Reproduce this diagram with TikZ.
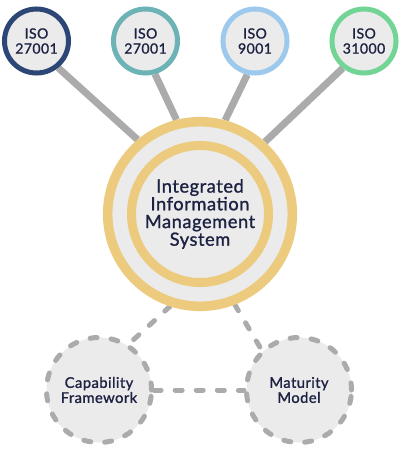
\documentclass[tikz,border=0pt]{standalone}
\usepackage{fontspec}
\setmainfont{Lato}[FakeBold=1.2, LetterSpace=3]
\usetikzlibrary{backgrounds}

\definecolor{isonavy}{HTML}{2C4775}
\definecolor{isoteal}{HTML}{6DB3B5}
\definecolor{isosky}{HTML}{9DC9EC}
\definecolor{isogreen}{HTML}{72D495}
\definecolor{hubgold}{HTML}{EDCB7E}
\definecolor{discfill}{HTML}{EBEBEB}
\definecolor{linkgrey}{HTML}{ABABAB}
\definecolor{labelnavy}{HTML}{1D2243}

\tikzset{
  iso/.style={circle, draw, line width=3.56pt, fill=discfill, minimum size=1.6cm,
    inner sep=0pt, align=center, text=labelnavy,
    font=\fontsize{10}{10.7}\selectfont},
  hub/.style={circle, draw=hubgold, line width=6.8pt, fill=discfill,
    minimum size=4.615cm, inner sep=0pt, align=center, text=labelnavy,
    font=\fontsize{13}{12.6}\selectfont},
  pillar/.style={circle, draw=linkgrey, line width=3.56pt, line cap=round,
    dash pattern=on 5pt off 10pt, fill=discfill, minimum size=2.625cm,
    inner sep=0pt, align=center, text=labelnavy,
    font=\fontsize{10.5}{10.7}\selectfont},
  link/.style={draw=linkgrey, line width=5pt},
  dashlink/.style={draw=linkgrey, line width=3.56pt, line cap=round,
    dash pattern=on 5pt off 10pt}
}

\begin{document}
\begin{tikzpicture}[x=0.025cm, y=-0.025cm]
  \useasboundingbox (0,0) rectangle (400,453);

  % standards
  \node[iso, draw=isonavy] (iso1) at (36.5,41) {ISO\\27001};
  \node[iso, draw=isoteal] (iso2) at (145.5,41) {ISO\\27001};
  \node[iso, draw=isosky] (iso3) at (255,41) {ISO\\9001};
  \node[iso, draw=isogreen] (iso4) at (364,41) {ISO\\31000};

  % central system
  \node[hub] (hub) at (200,214) {Integrated\\Information\\Management\\System};
  \draw[hubgold, line width=6.4pt] (hub.center) circle (1.7125cm);

  % lower pillars
  \node[pillar] (cap) at (99,390) {Capability\\Framework};
  \node[pillar] (mat) at (299,390) {Maturity\\Model};

  \begin{scope}[on background layer]
    \draw[link] (iso1.-51) -- (hub.130);
    \draw[link] (iso2.-74) -- (hub.104);
    \draw[link] (iso3.-103) -- (hub.75);
    \draw[link] (iso4.-128) -- (hub.48);
    \draw[dashlink] (hub.-108) -- (cap.57);
    \draw[dashlink] (hub.-69) -- (mat.133);
    \draw[dashlink] (cap) -- (mat);
  \end{scope}
\end{tikzpicture}
\end{document}
